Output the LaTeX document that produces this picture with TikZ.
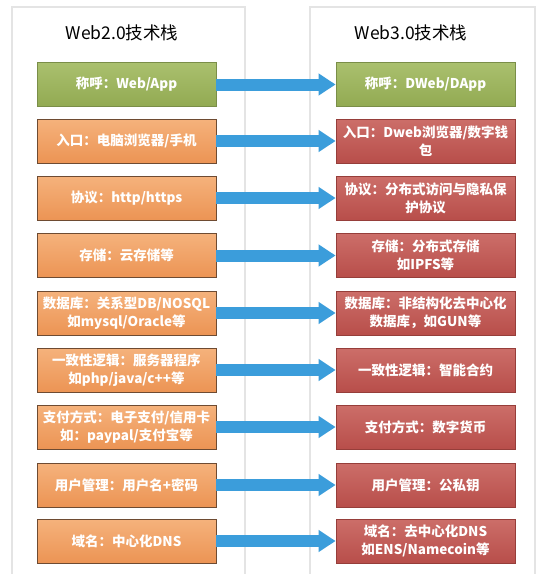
\documentclass[tikz,border=0pt]{standalone}
\usepackage{fontspec}
\setmainfont{Noto Sans CJK SC}
\usetikzlibrary{arrows.meta}
\definecolor{panelgray}{RGB}{228,228,228}
\definecolor{arrowblue}{RGB}{59,157,219}
\definecolor{gtop}{RGB}{170,192,110}
\definecolor{gbot}{RGB}{146,170,82}
\definecolor{gline}{RGB}{122,142,72}
\definecolor{otop}{RGB}{245,178,124}
\definecolor{obot}{RGB}{236,148,84}
\definecolor{oline}{RGB}{110,75,50}
\definecolor{rtop}{RGB}{204,110,105}
\definecolor{rbot}{RGB}{184,78,74}
\definecolor{rline}{RGB}{150,62,58}
\tikzset{
  box/.style={minimum width=179pt, minimum height=44pt, inner sep=0pt, align=center,
    text=white, font=\fontsize{13.5}{18}\selectfont\bfseries, line width=0.8pt},
  greenbox/.style={box, draw=gline, top color=gtop, bottom color=gbot},
  orangebox/.style={box, draw=oline, top color=otop, bottom color=obot},
  redbox/.style={box, draw=rline, top color=rtop, bottom color=rbot},
  title/.style={font=\fontsize{17.5}{20}\selectfont, text=black},
  panel/.style={draw=panelgray, line width=1.6pt},
  flow/.style={draw=arrowblue, line width=12pt, -{Triangle[length=17pt,width=21pt]}}
}
\begin{document}
\begin{tikzpicture}[x=1pt,y=-1pt]
\useasboundingbox (0,0) rectangle (543,574);
\fill[white] (0,0) rectangle (543,574);
\draw[panel] (12,576) -- (12,7) -- (245,7) -- (245,576);
\draw[panel] (310,576) -- (310,7) -- (535,7) -- (535,576);
\node[title] (t2) at (122,33) {Web2.0技术栈};
\node[title] (t3) at (411,33) {Web3.0技术栈};
% left column
\node[greenbox]  (l0) at (126.5,84.5) {称呼：Web/App};
\node[orangebox] (l1) at (126.5,141) {入口：电脑浏览器/手机};
\node[orangebox] (l2) at (126.5,198) {协议：http/https};
\node[orangebox] (l3) at (126.5,255.5) {存储：云存储等};
\node[orangebox] (l4) at (126.5,313) {数据库：关系型DB/NOSQL\\如mysql/Oracle等};
\node[orangebox] (l5) at (126.5,370) {一致性逻辑：服务器程序\\如php/java/c++等};
\node[orangebox] (l6) at (126.5,427) {支付方式：电子支付/信用卡\\如：paypal/支付宝等};
\node[orangebox] (l7) at (126.5,485) {用户管理：用户名+密码};
\node[orangebox] (l8) at (126.5,541) {域名：中心化DNS};
% right column
\node[greenbox] (r0) at (425.5,84.5) {称呼：DWeb/DApp};
\node[redbox] (r1) at (425.5,141) {入口：Dweb浏览器/数字钱\\包};
\node[redbox] (r2) at (425.5,198) {协议：分布式访问与隐私保\\护协议};
\node[redbox] (r3) at (425.5,255.5) {存储：分布式存储\\如IPFS等};
\node[redbox] (r4) at (425.5,313) {数据库：非结构化去中心化\\数据库，如GUN等};
\node[redbox] (r5) at (425.5,370) {一致性逻辑：智能合约};
\node[redbox] (r6) at (425.5,427) {支付方式：数字货币};
\node[redbox] (r7) at (425.5,485) {用户管理：公私钥};
\node[redbox] (r8) at (425.5,541) {域名：去中心化DNS\\如ENS/Namecoin等};
\foreach \i in {0,...,8} {
  \draw[flow] (l\i.east) -- (r\i.west);
}
\end{tikzpicture}
\end{document}
